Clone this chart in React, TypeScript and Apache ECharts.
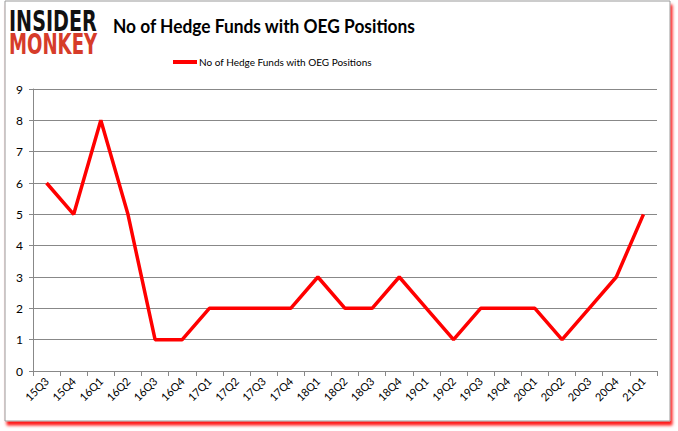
import React, { useEffect, useRef } from "react";
import * as echarts from "echarts";

const categories = ["15Q3","15Q4","16Q1","16Q2","16Q3","16Q4","17Q1","17Q2","17Q3","17Q4","18Q1","18Q2","18Q3","18Q4","19Q1","19Q2","19Q3","19Q4","20Q1","20Q2","20Q3","20Q4","21Q1"];
const hedgeFunds = [6,5,8,5,1,1,2,2,2,2,3,2,2,3,2,1,2,2,2,1,2,3,5];
const seriesName = "No of Hedge Funds with OEG Positions";
const titleText = "No of Hedge Funds with OEG Positions";

const FONT = "Lato, 'Liberation Sans', sans-serif";

export default function App() {
  const ref = useRef<HTMLDivElement>(null);
  useEffect(() => {
    const chart = echarts.init(ref.current!, null, { renderer: "svg" });
    chart.setOption({
      animation: false,
      backgroundColor: "#ffffff",
      legend: {
        data: [seriesName],
        left: 168,
        top: 52,
        itemWidth: 24,
        itemHeight: 4,
        itemGap: 4,
        icon: "rect",
        textStyle: { fontFamily: FONT, fontSize: 10, color: "#000", padding: [0, 0, 0, -3] },
      },
      graphic: [
        {
          type: "rect",
          z: -10,
          shape: { x: 5, y: 1, width: 665, height: 420 },
          style: { fill: "#fff", stroke: "#999", lineWidth: 1, shadowColor: "rgba(255,0,0,0.9)", shadowBlur: 3, shadowOffsetX: 2, shadowOffsetY: 4 },
        },
        {
          type: "text",
          x: 113,
          y: 16,
          scaleX: 0.89,
          style: { text: titleText, x: 0, y: 0, verticalAlign: "top", fill: "#000", font: "bold 19.5px Lato, 'Liberation Sans', sans-serif" },
        },
        {
          type: "text",
          x: 9,
          y: 7,
          scaleX: 0.76,
          style: { text: "INSIDER", x: 0, y: 0, verticalAlign: "top", fill: "#111", font: "bold 28px 'DejaVu Sans Condensed'" },
        },
        {
          type: "text",
          x: 9,
          y: 30,
          scaleX: 0.72,
          style: { text: "MONKEY", x: 0, y: 0, verticalAlign: "top", fill: "#d63c2a", font: "bold 28px 'DejaVu Sans Condensed'" },
        },
      ],
      grid: { left: 33, right: 21, top: 89, bottom: 60 },
      xAxis: {
        type: "category",
        data: categories,
        boundaryGap: true,
        axisLine: { lineStyle: { color: "#888" } },
        axisTick: { show: true, interval: 0, length: 5, lineStyle: { color: "#888" } },
        axisLabel: { interval: 0, rotate: 45, margin: 8, fontFamily: FONT, fontSize: 11, color: "#000" },
      },
      yAxis: {
        type: "value",
        min: 0,
        max: 9,
        interval: 1,
        axisLine: { show: true, lineStyle: { color: "#888" } },
        axisTick: { show: true, length: 4, lineStyle: { color: "#888" } },
        axisLabel: { margin: 10, fontFamily: FONT, fontSize: 12, color: "#000" },
        splitLine: { lineStyle: { color: "#888" } },
      },
      series: [
        {
          name: seriesName,
          type: "line",
          data: hedgeFunds,
          symbol: "none",
          lineStyle: { color: "#ff0000", width: 3.5 },
          itemStyle: { color: "#ff0000" },
        },
      ],
    });
    return () => chart.dispose();
  }, []);
  return <div ref={ref} style={{ position: "absolute", left: 0, top: 0, width: 678, height: 431 }} />;
}
